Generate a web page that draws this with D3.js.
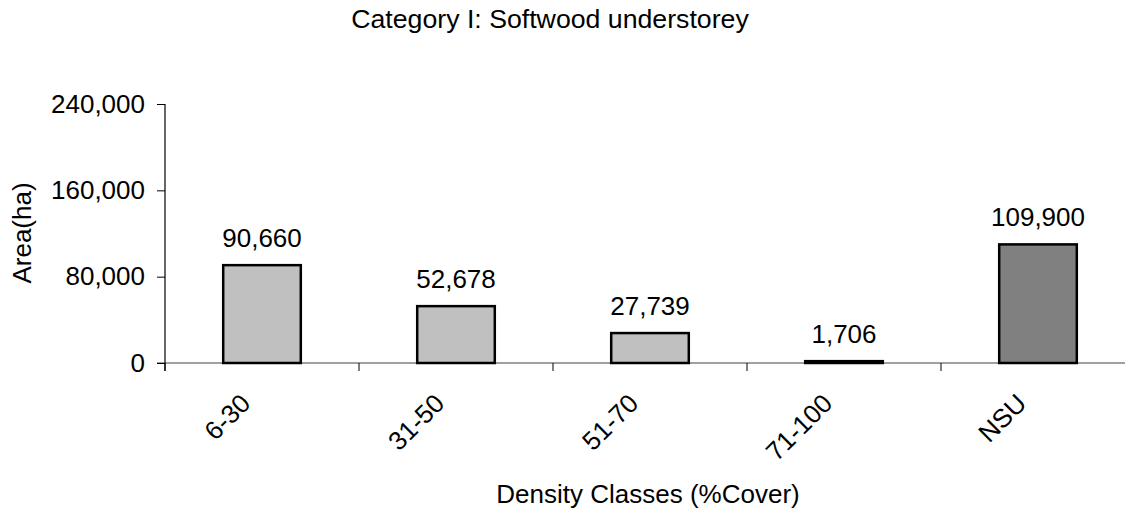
<!DOCTYPE html>
<html>
<head>
<meta charset="utf-8">
<script src="https://cdn.jsdelivr.net/npm/d3@7"></script>
<style>
  body { margin: 0; background: #fff; }
  text { font-family: "Liberation Sans", Arial, sans-serif; fill: #000; }
</style>
</head>
<body>
<div id="chart"></div>
<script>
// donnees
const categories = ['6-30', '31-50', '51-70', '71-100', 'NSU']
const areas = [90660, 52678, 27739, 1706, 109900]
const yTicks = [0, 80000, 160000, 240000]
const title = 'Category I: Softwood understorey'
const xTitle = 'Density Classes (%Cover)'
const yTitle = 'Area(ha)'

const W = 1125, H = 513
const fs = 26
const fmt = d3.format(',')

const svg = d3.select('#chart').append('svg')
    .attr('width', W)
    .attr('height', H)

// echelles
const x = d3.scaleBand()
    .domain(categories)
    .range([165, 1135])
    .paddingInner(0.6)
    .paddingOuter(0.3)

const y = d3.scaleLinear()
    .domain([0, 240000])
    .range([363, 104])

const data = categories.map((c, i) => ({ cat: c, val: areas[i] }))

// axe x : ligne grise + petites marques entre les categories
svg.append('line')
    .attr('x1', 157).attr('x2', W)
    .attr('y1', y(0)).attr('y2', y(0))
    .attr('stroke', '#808080').attr('stroke-width', 1.5)

const step = x.step()
svg.append('g')
    .selectAll('line')
    .data(d3.range(categories.length + 1))
    .enter()
    .append('line')
    .attr('x1', i => 165 + i * step)
    .attr('x2', i => 165 + i * step)
    .attr('y1', y(0))
    .attr('y2', y(0) + 8)
    .attr('stroke', '#000')
    .attr('stroke-width', 1)

// axe y
const yAxis = svg.append('g')
    .attr('transform', 'translate(165,0)')
    .call(d3.axisLeft(y).tickValues(yTicks).tickFormat(fmt).tickSize(8).tickPadding(12))
yAxis.select('.domain')
    .attr('d', 'M0,' + y(240000) + 'V' + (y(0) + 8))
    .attr('stroke', '#000')
    .attr('stroke-width', 1.2)
yAxis.selectAll('.tick line').attr('stroke', '#000')
yAxis.selectAll('.tick text')
    .style('font-size', fs + 'px')
    .style('font-family', '"Liberation Sans", Arial, sans-serif')

// barres
svg.append('g')
    .selectAll('rect')
    .data(data)
    .enter()
    .append('rect')
    .attr('x', d => x(d.cat))
    .attr('y', d => y(d.val))
    .attr('width', x.bandwidth())
    .attr('height', d => y(0) - y(d.val))
    .attr('fill', d => d.cat == 'NSU' ? '#808080' : '#c0c0c0')
    .attr('stroke', '#000')
    .attr('stroke-width', 2.5)

// etiquettes des valeurs
svg.append('g')
    .selectAll('text')
    .data(data)
    .enter()
    .append('text')
    .attr('x', d => x(d.cat) + x.bandwidth() / 2)
    .attr('y', d => y(d.val) - 18)
    .attr('text-anchor', 'middle')
    .style('font-size', fs + 'px')
    .text(d => fmt(d.val))

// etiquettes des categories, inclinees
svg.append('g')
    .selectAll('text')
    .data(categories)
    .enter()
    .append('text')
    .attr('transform', d => 'translate(' + (x(d) + x.bandwidth() / 2 - 10) + ',' + 405 + ') rotate(-45)')
    .attr('text-anchor', 'end')
    .style('font-size', fs + 'px')
    .text(d => d)

// titres
svg.append('text')
    .attr('x', 550).attr('y', 28)
    .attr('text-anchor', 'middle')
    .style('font-size', '26.7px')
    .text(title)

svg.append('text')
    .attr('x', 648).attr('y', 503)
    .attr('text-anchor', 'middle')
    .style('font-size', fs + 'px')
    .text(xTitle)

svg.append('text')
    .attr('transform', 'translate(31,233) rotate(-90)')
    .attr('text-anchor', 'middle')
    .style('font-size', fs + 'px')
    .text(yTitle)
</script>
</body>
</html>
